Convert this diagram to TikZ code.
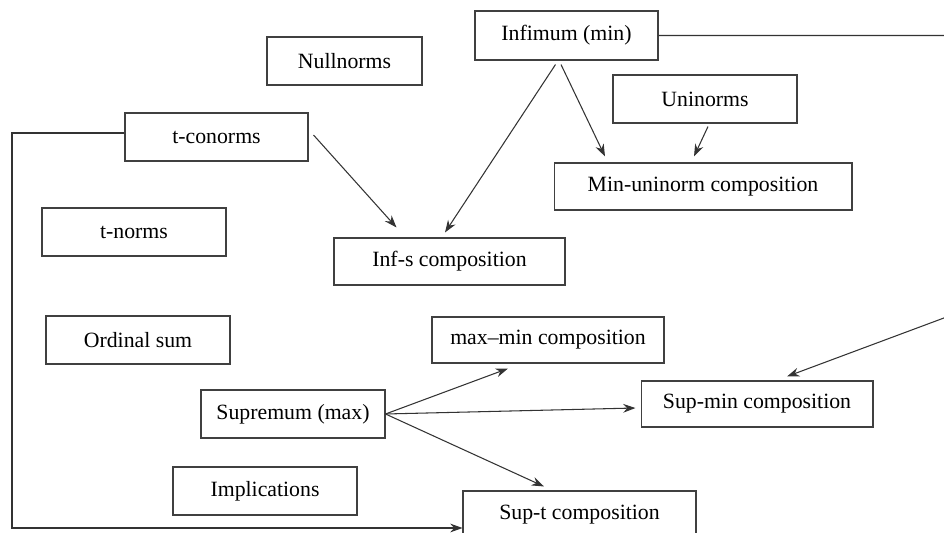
\documentclass[tikz,border=0pt]{standalone}
\usepackage{fontspec}
\setmainfont{Liberation Serif}
\usetikzlibrary{arrows.meta,calc}

\tikzset{
  box/.style={draw=black!75, line width=0.6pt, rectangle, inner sep=0pt,
              minimum height=0.96cm, font=\fontsize{12.4}{15}\selectfont},
  arr/.style={draw=black!80, line width=0.6pt, -{Stealth[length=7pt,width=5pt]}},
}

\begin{document}
\begin{tikzpicture}[x=0.02cm, y=-0.02cm]
  \useasboundingbox (0,0) rectangle (944,533);
  \clip (0,0) rectangle (944,533);
  % Operators and norms
  \node[box, minimum width=3.10cm] (null)   at (344.5,61)  {Nullnorms};
  \node[box, minimum width=3.66cm, minimum height=0.98cm] (inf) at (566.5,35.5) {Infimum (min)};
  \node[box, minimum width=3.68cm] (uni)    at (705,99)    {Uninorms};
  \node[box, minimum width=3.66cm] (tcon)   at (216.5,137) {t-conorms};
  \node[box, minimum width=3.68cm] (tnorm)  at (134,232)   {t-norms};
  \node[box, minimum width=3.68cm] (ordsum) at (138,340)   {Ordinal sum};
  \node[box, minimum width=3.68cm] (supmax) at (293,414)   {Supremum (max)};
  \node[box, minimum width=3.68cm] (impl)   at (265,491)   {Implications};
  % Compositions
  \node[box, minimum width=5.96cm, minimum height=0.94cm] (minuni) at (703,186.5) {Min-uninorm composition};
  \node[box, minimum width=4.62cm, minimum height=0.94cm] (infs)   at (449.5,261.5) {Inf-s composition};
  \node[box, minimum width=4.64cm, minimum height=0.92cm] (maxmin) at (548,340) {max--min composition};
  \node[box, minimum width=4.64cm, minimum height=0.92cm] (supmin) at (757,404) {Sup-min composition};
  \node[box, minimum width=4.66cm] (supt)   at (579.5,515) {Sup-t composition};
  % Corner points of the long connectors
  \coordinate (ne) at (960,35.5);
  \coordinate (se) at (960,312);
  \coordinate (sw) at (12,528);
  % Arrows into the inf-based compositions
  \draw[arr] ($(tcon.east)+(5,-2)$) -- ($(infs.north)+(-53,-10)$);
  \draw[arr] ($(inf.south)+(-11,4)$) -- ($(infs.north)+(-4.5,-5)$);
  \draw[arr] ($(inf.south)+(-5.5,4)$) -- ($(minuni.north)+(-98,-6)$);
  \draw[arr] ($(uni.south)+(3,3)$) -- ($(minuni.north)+(-9,-6)$);
  % Arrows from the supremum
  \draw[arr] (supmax.east) -- ($(maxmin.south)+(-40,5)$);
  \draw[arr] (supmax.east) -- ($(supmin.west)+(-5,4)$);
  \draw[arr] (supmax.east) -- ($(supt.north)+(-35.5,-4)$);
  % Long connectors round the edges
  \draw[arr] (inf.east) -- (ne) -- (se) -- ($(supmin.north)+(30,-4)$);
  \draw[arr] ($(tcon.west)+(0,-4)$) -| (sw) -- ($(supt.west)+(0,13)$);
\end{tikzpicture}
\end{document}
